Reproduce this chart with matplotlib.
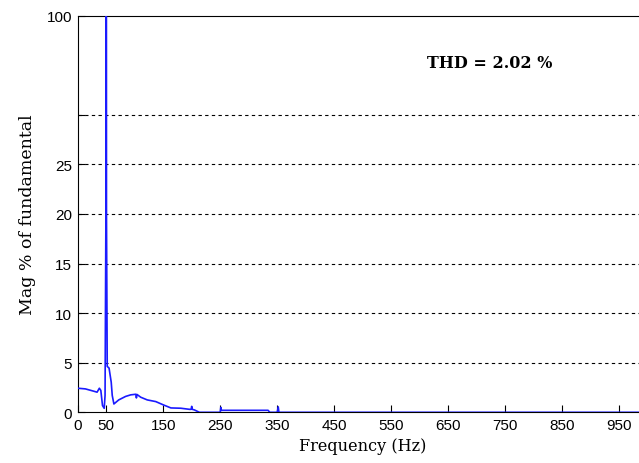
import matplotlib
matplotlib.use("Agg")
import matplotlib.pyplot as plt

# Spectrum data (Hz, % of fundamental)
freq = [0, 13.5, 28, 34, 38, 40.6, 43.5, 46.5, 48, 49.5, 50, 50.5, 51.8, 55, 58.8, 60.6, 63.5,
        72, 84, 93, 102, 103, 104, 110.6, 122, 137, 150.6, 163.5, 181, 196, 199, 200, 201,
        204.7, 213.5, 250, 251, 252, 253, 254.7, 334, 337, 350, 351.8, 353, 1000]
mag = [2.43, 2.36, 2.13, 2.03, 2.43, 2.2, 0.68, 0.4, 1.7, 20, 100, 20, 4.63, 4.46, 3.04, 1.7, 0.84,
       1.25, 1.6, 1.76, 1.82, 1.45, 1.8, 1.52, 1.25, 1.08, 0.74, 0.44, 0.41, 0.30, 0.3, 0.6, 0.3,
       0.24, 0.0, 0.0, 0.5, 0.2, 0.2, 0.2, 0.2, 0.0, 0.0, 0.55, 0.0, 0.0]

xticks = [0, 50, 150, 250, 350, 450, 550, 650, 750, 850, 950]
yticks = [0, 5, 10, 15, 20, 25, 30, 40]
ytick_labels = ["0", "5", "10", "15", "20", "25", "", "100"]
thd_text = "THD = 2.02 %"

fig = plt.figure(figsize=(6.39, 4.64), dpi=100)
W, H = 639, 464
left_px, right_px = 77.7, 647.7
top_px, bottom_px = 16.7, 413.3
ax = fig.add_axes([left_px / W, 1 - bottom_px / H, (right_px - left_px) / W, (bottom_px - top_px) / H])

ax.plot(freq, mag, color="#1a1aff", lw=1.2, zorder=3)
ax.set_xlim(0, 1000)
ax.set_ylim(0, 40)

ax.set_xticks(xticks)
ax.set_xticklabels([str(t) for t in xticks], fontfamily="Liberation Sans", fontsize=11)
ax.set_yticks(yticks)
ax.set_yticklabels(ytick_labels, fontfamily="Liberation Sans", fontsize=11)
ax.tick_params(direction="in", length=5, width=0.8, pad=4)

for y in [5, 10, 15, 20, 25, 30]:
    ax.axhline(y, color="black", lw=0.8, ls=(0, (3, 3)), zorder=0.5)

for s in ax.spines.values():
    s.set_linewidth(0.8)

ax.set_xlabel("Frequency (Hz)", fontfamily="DejaVu Serif", fontsize=11.6, labelpad=4)
ax.set_ylabel("Mag % of fundamental", fontfamily="DejaVu Serif", fontsize=12.5, labelpad=8)

ax.text(612, 35.3, thd_text, fontfamily="DejaVu Serif", fontweight="bold", fontsize=11.5,
        va="center", ha="left")

fig.savefig("out.png", dpi=100)
